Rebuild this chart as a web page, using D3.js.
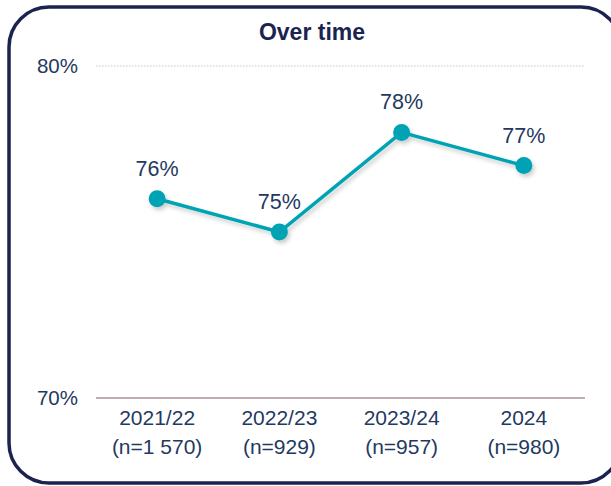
<!DOCTYPE html>
<html>
<head>
<meta charset="utf-8">
<script src="https://cdn.jsdelivr.net/npm/d3@7"></script>
<style>
  html, body { margin: 0; padding: 0; background: #fff; }
  svg { display: block; font-family: "Liberation Sans", Arial, sans-serif; }
</style>
</head>
<body>
<svg id="chart" width="611" height="486"></svg>
<script>
// Survey waves and share of respondents
const periods = ["2021/22", "2022/23", "2023/24", "2024"];
const sampleSizes = ["(n=1 570)", "(n=929)", "(n=957)", "(n=980)"];
const values = [76, 75, 78, 77];
const yTicks = [70, 80];

const svg = d3.select("#chart");
const W = 611, H = 486;
const margin = { left: 96, right: 26, top: 66, bottom: 88 };

// Rounded frame
svg.append("rect")
  .attr("x", 9).attr("y", 7)
  .attr("width", 612).attr("height", 476)
  .attr("rx", 40).attr("ry", 40)
  .attr("fill", "#fff")
  .attr("stroke", "#1b2450")
  .attr("stroke-width", 3.5);

svg.append("text")
  .attr("x", 312).attr("y", 40)
  .attr("text-anchor", "middle")
  .attr("font-size", 23).attr("font-weight", "bold")
  .attr("fill", "#1b2450")
  .text("Over time");

const x = d3.scaleBand().domain(periods).range([margin.left, W - margin.right]);
const y = d3.scaleLinear().domain([70, 80]).range([H - margin.bottom, margin.top]);

const defs = svg.append("defs");
const f = defs.append("filter").attr("id", "shadow")
  .attr("x", "-10%").attr("y", "-20%").attr("width", "130%").attr("height", "150%");
f.append("feDropShadow").attr("dx", 2).attr("dy", 3).attr("stdDeviation", 2)
  .attr("flood-color", "#000").attr("flood-opacity", 0.2);

// Gridlines
svg.append("line")
  .attr("x1", margin.left).attr("x2", W - margin.right)
  .attr("y1", y(80)).attr("y2", y(80))
  .attr("stroke", "#c8c8c8").attr("stroke-width", 1.2)
  .attr("stroke-dasharray", "1.5,1.5");
svg.append("line")
  .attr("x1", margin.left).attr("x2", W - margin.right)
  .attr("y1", y(70)).attr("y2", y(70))
  .attr("stroke", "#bdaeb3").attr("stroke-width", 2);

// Y tick labels
svg.selectAll("text.ytick").data(yTicks).join("text")
  .attr("class", "ytick")
  .attr("x", 78).attr("y", d => y(d))
  .attr("dy", "0.35em")
  .attr("text-anchor", "end")
  .attr("font-size", 20.5)
  .attr("fill", "#1f3a60")
  .text(d => d + "%");

// X category labels
const xl = svg.selectAll("text.xcat").data(periods).join("text")
  .attr("class", "xcat")
  .attr("text-anchor", "middle")
  .attr("font-size", 21)
  .attr("fill", "#1f3a60");
xl.append("tspan").attr("x", d => x(d) + x.bandwidth() / 2).attr("y", 425).text(d => d);
xl.append("tspan").attr("x", d => x(d) + x.bandwidth() / 2).attr("y", 454)
  .text((d, i) => sampleSizes[i]);

// Line + markers
const cx = d => x(d) + x.bandwidth() / 2;
const line = d3.line().x((d, i) => cx(periods[i])).y(d => y(d));
const g = svg.append("g").attr("filter", "url(#shadow)");
g.append("path").datum(values)
  .attr("d", line)
  .attr("fill", "none")
  .attr("stroke", "#00a3b4")
  .attr("stroke-width", 3.5);
g.selectAll("circle").data(values).join("circle")
  .attr("cx", (d, i) => cx(periods[i]))
  .attr("cy", d => y(d))
  .attr("r", 8.5)
  .attr("fill", "#00a3b4");

// Value labels
svg.selectAll("text.val").data(values).join("text")
  .attr("class", "val")
  .attr("x", (d, i) => cx(periods[i]))
  .attr("y", d => y(d) - 23)
  .attr("text-anchor", "middle")
  .attr("font-size", 21.5)
  .attr("fill", "#1f3a60")
  .text(d => d + "%");
</script>
</body>
</html>
